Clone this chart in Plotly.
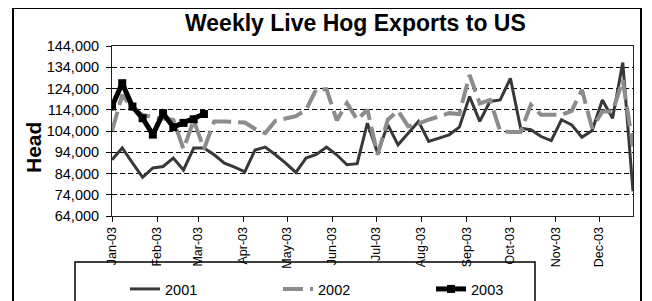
import pandas as pd
import plotly.graph_objects as go

# ---- data (weekly head counts) ----
week_start = "2003-01-01"
n_weeks = 52
weeks = pd.date_range(week_start, periods=n_weeks, freq="7D")

hogs_2001 = [90500, 96000, 89000, 82200, 86600, 87300, 91300, 85700, 96000, 96000,
             92800, 88900, 87000, 84800, 95000, 96400, 92800, 88900, 84500, 91300,
             93000, 96400, 92800, 88100, 88600, 107700, 93600, 106900, 97500, 103000,
             108500, 99100, 100700, 102200, 105800, 120200, 108500, 117900, 118600, 128800,
             105300, 104600, 101400, 99500, 109300, 106900, 101100, 104200, 118600, 110000,
             136200, 75600]
hogs_2002 = [104000, 121000, 114700, 111600, 110500, 110000, 109300, 95500, 109000, 95500,
             108500, 108500, 108300, 108000, 105000, 103000, 108800, 110000, 111000, 114000,
             123700, 123700, 109000, 117100, 109300, 114000, 92800, 109300, 113500, 106200,
             107500, 109300, 111000, 112400, 112000, 130400, 117000, 118600, 104000, 103500,
             103500, 116300, 111600, 111600, 111600, 113500, 123400, 105300, 113200, 113200,
             128000, 96700]
hogs_2003 = [115500, 126500, 115500, 110000, 102300, 112400, 105800, 107800, 109500, 112000]

series_names = ["2001", "2002", "2003"]
title_text = "Weekly Live Hog Exports to US"
y_title = "Head"
y_min, y_max, y_step = 64000, 144000, 10000

# ---- layout geometry (screen pixels; the page body adds an 8px offset) ----
W, H = 652, 301
OFF = 8
PLOT_L, PLOT_R, PLOT_T, PLOT_B = 112, 633, 46, 216   # target on screen
ML = PLOT_L - OFF
MT = PLOT_T - OFF
PW = PLOT_R - PLOT_L
PH = PLOT_B - PLOT_T
MR = W - ML - PW
MB = H - MT - PH


def px_x(p):
    return (p - PLOT_L) / PW


def px_y(p):
    return (PLOT_B - p) / PH


FONT = "Arial, Liberation Sans, sans-serif"

fig = go.Figure()
fig.add_trace(go.Scatter(x=weeks, y=hogs_2001, name=series_names[0], mode="lines",
                         line=dict(color="#383838", width=3)))
fig.add_trace(go.Scatter(x=weeks, y=hogs_2002, name=series_names[1], mode="lines",
                         line=dict(color="#8c8c8c", width=4, dash="20px,7px")))
fig.add_trace(go.Scatter(x=weeks[:len(hogs_2003)], y=hogs_2003, name=series_names[2],
                         mode="lines+markers",
                         line=dict(color="#000000", width=5),
                         marker=dict(symbol="square", size=8, color="#000000")))

fig.update_layout(
    width=W, height=H,
    margin=dict(l=ML, r=MR, t=MT, b=MB, autoexpand=False),
    paper_bgcolor="white", plot_bgcolor="white",
    font=dict(family=FONT, color="#000000"),
    showlegend=True,
    legend=dict(orientation="h", x=px_x(125), xanchor="left",
                y=px_y(273), yanchor="top",
                bgcolor="rgba(0,0,0,0)", borderwidth=0,
                font=dict(size=14.5, family=FONT),
                entrywidth=108, entrywidthmode="pixels",
                traceorder="normal"),
)

fig.update_xaxes(
    type="date",
    range=[weeks[0], weeks[-1]],
    tick0=week_start, dtick="M1", tickformat="%b-%y",
    tickangle=-90, tickfont=dict(size=12.5, family=FONT),
    ticks="outside", ticklen=5, tickcolor="black",
    showgrid=False, showline=True, linecolor="#222", linewidth=1, mirror=True,
    zeroline=False,
)
fig.update_yaxes(
    range=[y_min, y_max], dtick=y_step, tick0=y_min, tickformat=",",
    tickfont=dict(size=14.5, family=FONT),
    ticks="outside", ticklen=5, tickcolor="black", ticklabelstandoff=4,
    showgrid=True, gridcolor="black", gridwidth=1, griddash="5px,3px",
    showline=True, linecolor="#222", linewidth=1, mirror=True,
    zeroline=False,
)

# title and axis title
fig.add_annotation(text="<b>" + title_text + "</b>", xref="paper", yref="paper",
                   x=px_x(355), y=px_y(23), xanchor="center", yanchor="middle",
                   showarrow=False, font=dict(size=23, family=FONT))
fig.add_annotation(text="<b>" + y_title + "</b>", xref="paper", yref="paper",
                   x=px_x(33), y=px_y(148), xanchor="center", yanchor="middle",
                   textangle=-90, showarrow=False, font=dict(size=21, family=FONT))

# outer chart frame and legend box
fig.add_shape(type="rect", xref="paper", yref="paper",
              x0=px_x(13), x1=px_x(641), y0=px_y(340), y1=px_y(8),
              line=dict(color="black", width=2), fillcolor="rgba(0,0,0,0)", layer="below")
fig.add_shape(type="rect", xref="paper", yref="paper",
              x0=px_x(75), x1=px_x(535), y0=px_y(330), y1=px_y(262),
              line=dict(color="black", width=1.5), fillcolor="rgba(0,0,0,0)", layer="below")

fig.write_html("out.html")
